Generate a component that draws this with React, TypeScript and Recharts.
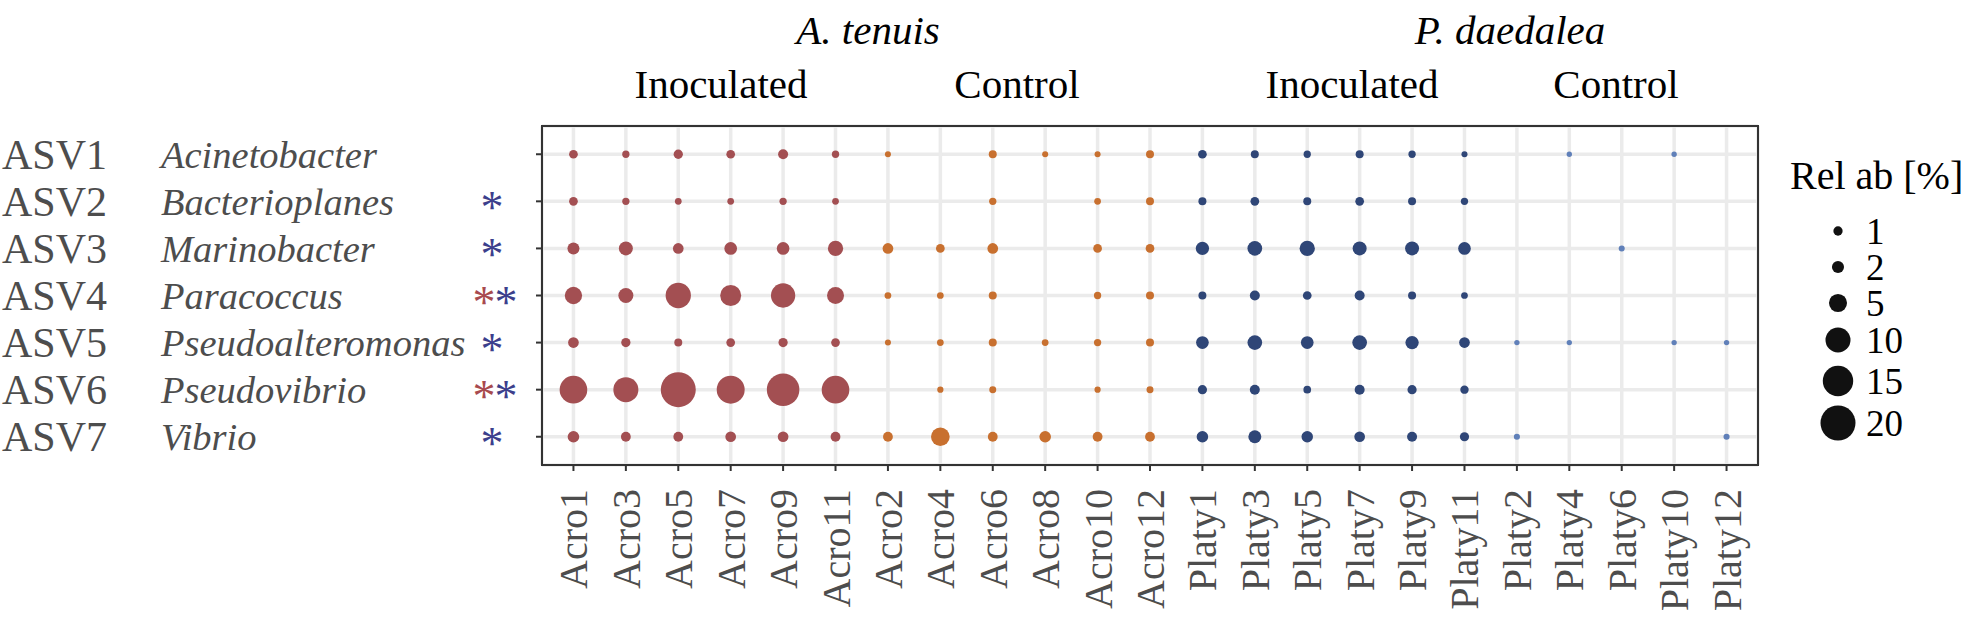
import { CartesianGrid, ReferenceArea, Scatter, ScatterChart, XAxis, YAxis } from "recharts";

// sample order on the x axis
const acroInoc = ["Acro1", "Acro3", "Acro5", "Acro7", "Acro9", "Acro11"];
const acroCtrl = ["Acro2", "Acro4", "Acro6", "Acro8", "Acro10", "Acro12"];
const platyInoc = ["Platy1", "Platy3", "Platy5", "Platy7", "Platy9", "Platy11"];
const platyCtrl = ["Platy2", "Platy4", "Platy6", "Platy10", "Platy12"];
const samples = [...acroInoc, ...acroCtrl, ...platyInoc, ...platyCtrl];

const asvIds = ["ASV1", "ASV2", "ASV3", "ASV4", "ASV5", "ASV6", "ASV7"];
const genera = ["Acinetobacter", "Bacterioplanes", "Marinobacter", "Paracoccus", "Pseudoalteromonas", "Pseudovibrio", "Vibrio"];
// significance stars (red = A. tenuis, blue = P. daedalea)
const sigAcro = [false, false, false, true, false, true, false];
const sigPlaty = [false, true, true, true, true, true, true];

// relative abundance [%] per ASV, in sample order (null = absent)
const asv1 = [0.83, 0.45, 1.0, 0.83, 1.23, 0.45, 0.17, null, 0.63, 0.17, 0.17, 0.63, 0.83, 0.63, 0.45, 0.63, 0.45, 0.17, null, 0.04, null, 0.04, null];
const asv2 = [0.83, 0.45, 0.32, 0.32, 0.45, 0.32, null, null, 0.45, null, 0.32, 0.63, 0.63, 0.83, 0.63, 0.83, 0.63, 0.45, null, null, null, null, null];
const asv3 = [1.97, 2.83, 1.47, 2.25, 2.25, 3.47, 1.47, 0.83, 1.47, null, 0.83, 0.83, 2.52, 3.17, 3.47, 2.83, 2.83, 2.25, null, null, 0.17, null, null];
const asv4 = [4.56, 3.32, 10.2, 6.92, 9.4, 4.38, 0.32, 0.32, 0.63, null, 0.45, 0.63, 0.63, 1.23, 0.83, 1.23, 0.63, 0.32, null, null, null, null, null];
const asv5 = [1.47, 1.0, 0.63, 0.83, 1.0, 0.83, 0.17, 0.32, 0.63, 0.32, 0.45, 0.63, 2.25, 3.17, 2.25, 3.17, 2.52, 1.47, 0.04, 0.04, null, 0.04, 0.04];
const asv6 = [12.3, 10.0, 20.0, 12.6, 17.2, 12.3, null, 0.21, 0.38, null, 0.21, 0.38, 0.98, 1.23, 0.55, 1.23, 0.98, 0.74, null, null, null, null, null];
const asv7 = [1.81, 1.17, 1.17, 1.47, 1.47, 1.17, 1.17, 5.4, 1.17, 1.81, 1.17, 1.17, 1.77, 2.38, 1.77, 1.47, 1.23, 0.98, 0.19, null, null, null, 0.19];
const abundance = [asv1, asv2, asv3, asv4, asv5, asv6, asv7];

const legendValues = [1, 2, 5, 10, 15, 20];

const groups = [
  { names: acroInoc, color: "#a34f52" },
  { names: acroCtrl, color: "#c8702f" },
  { names: platyInoc, color: "#2f4677" },
  { names: platyCtrl, color: "#6080b9" },
];

// area proportional to value
const radius = (v: number) => Math.sqrt(26 + 60 * v) / 2;

const SERIF = "'Liberation Serif', 'Times New Roman', serif";
const GREY = "#4d4d4d";

const seriesData = groups.map((g) => {
  const pts: any[] = [];
  abundance.forEach((row, yi) => {
    row.forEach((v, xi) => {
      if (v == null) return;
      if (!g.names.includes(samples[xi])) return;
      pts.push({ x: xi, y: yi, v });
    });
  });
  return pts;
});

const XTick = ({ x, y, payload }: any) => {
  const top = y + 16;
  return (
    <text
      x={x}
      y={top}
      transform={`rotate(-90 ${x} ${top})`}
      textAnchor="end"
      dy="0.35em"
      fontFamily={SERIF}
      fontSize={40}
      fill={GREY}
    >
      {samples[payload.value]}
    </text>
  );
};

const YTick = ({ y, payload }: any) => {
  const i = payload.value;
  return (
    <g fontFamily={SERIF}>
      <text x={2} y={y} dy="0.35em" fontSize={42} fill={GREY}>
        {asvIds[i]}
      </text>
      <text x={161} y={y} dy="0.35em" fontSize={38.5} fill={GREY} fontStyle="italic">
        {genera[i]}
      </text>
      {sigAcro[i] && (
        <text x={484} y={y + 22} fontSize={46} fill="#a84a4e" textAnchor="middle">
          *
        </text>
      )}
      {sigPlaty[i] && (
        <text x={sigAcro[i] ? 506 : 492} y={y + 22} fontSize={46} fill="#3c3f8c" textAnchor="middle">
          *
        </text>
      )}
    </g>
  );
};

const dot = (color: string) => (props: any) => (
  <circle cx={props.cx} cy={props.cy} r={radius(props.payload.v)} fill={color} />
);

const legendY = [231, 267, 303, 340, 381, 423];

export default function App() {
  return (
    <div style={{ position: "absolute", left: 0, top: 0, width: 1972, height: 618, background: "#fff" }}>
      <ScatterChart width={1972} height={618} margin={{ top: 126, right: 214, bottom: 0, left: 0 }}>
        <CartesianGrid stroke="#ebebeb" strokeWidth={3.5} />
        <XAxis
          type="number"
          dataKey="x"
          domain={[-0.6, samples.length - 0.4]}
          ticks={samples.map((_, i) => i)}
          interval={0}
          height={153}
          axisLine={false}
          tickLine={{ stroke: "#333", strokeWidth: 2 }}
          tickSize={6}
          tick={<XTick />}
        />
        <YAxis
          type="number"
          dataKey="y"
          reversed
          domain={[-0.6, asvIds.length - 0.4]}
          ticks={asvIds.map((_, i) => i)}
          interval={0}
          width={542}
          axisLine={false}
          tickLine={{ stroke: "#333", strokeWidth: 2 }}
          tickSize={6}
          tick={<YTick />}
        />
        {groups.map((g, i) => (
          <Scatter key={i} data={seriesData[i]} fill={g.color} shape={dot(g.color)} isAnimationActive={false} />
        ))}
        <ReferenceArea
          x1={-0.6}
          x2={samples.length - 0.4}
          y1={-0.6}
          y2={asvIds.length - 0.4}
          fill="none"
          stroke="#333"
          strokeWidth={2}
          ifOverflow="visible"
        />
      </ScatterChart>
      <svg width={1972} height={618} style={{ position: "absolute", left: 0, top: 0, pointerEvents: "none" }}>
        <g fontFamily={SERIF} fontSize={41} fill="#000" textAnchor="middle">
          <text x={868} y={44} fontStyle="italic">A. tenuis</text>
          <text x={1510} y={44} fontStyle="italic">P. daedalea</text>
          <text x={721} y={98}>Inoculated</text>
          <text x={1017} y={98}>Control</text>
          <text x={1352} y={98}>Inoculated</text>
          <text x={1616} y={98}>Control</text>
        </g>
        <g fontFamily={SERIF} fill="#000">
          <text x={1790} y={189} fontSize={40}>Rel ab [%]</text>
          {legendValues.map((v, i) => (
            <g key={v}>
              <circle cx={1838} cy={legendY[i]} r={radius(v)} fill="#111" />
              <text x={1866} y={legendY[i]} dy="0.35em" fontSize={37}>{v}</text>
            </g>
          ))}
        </g>
      </svg>
    </div>
  );
}
